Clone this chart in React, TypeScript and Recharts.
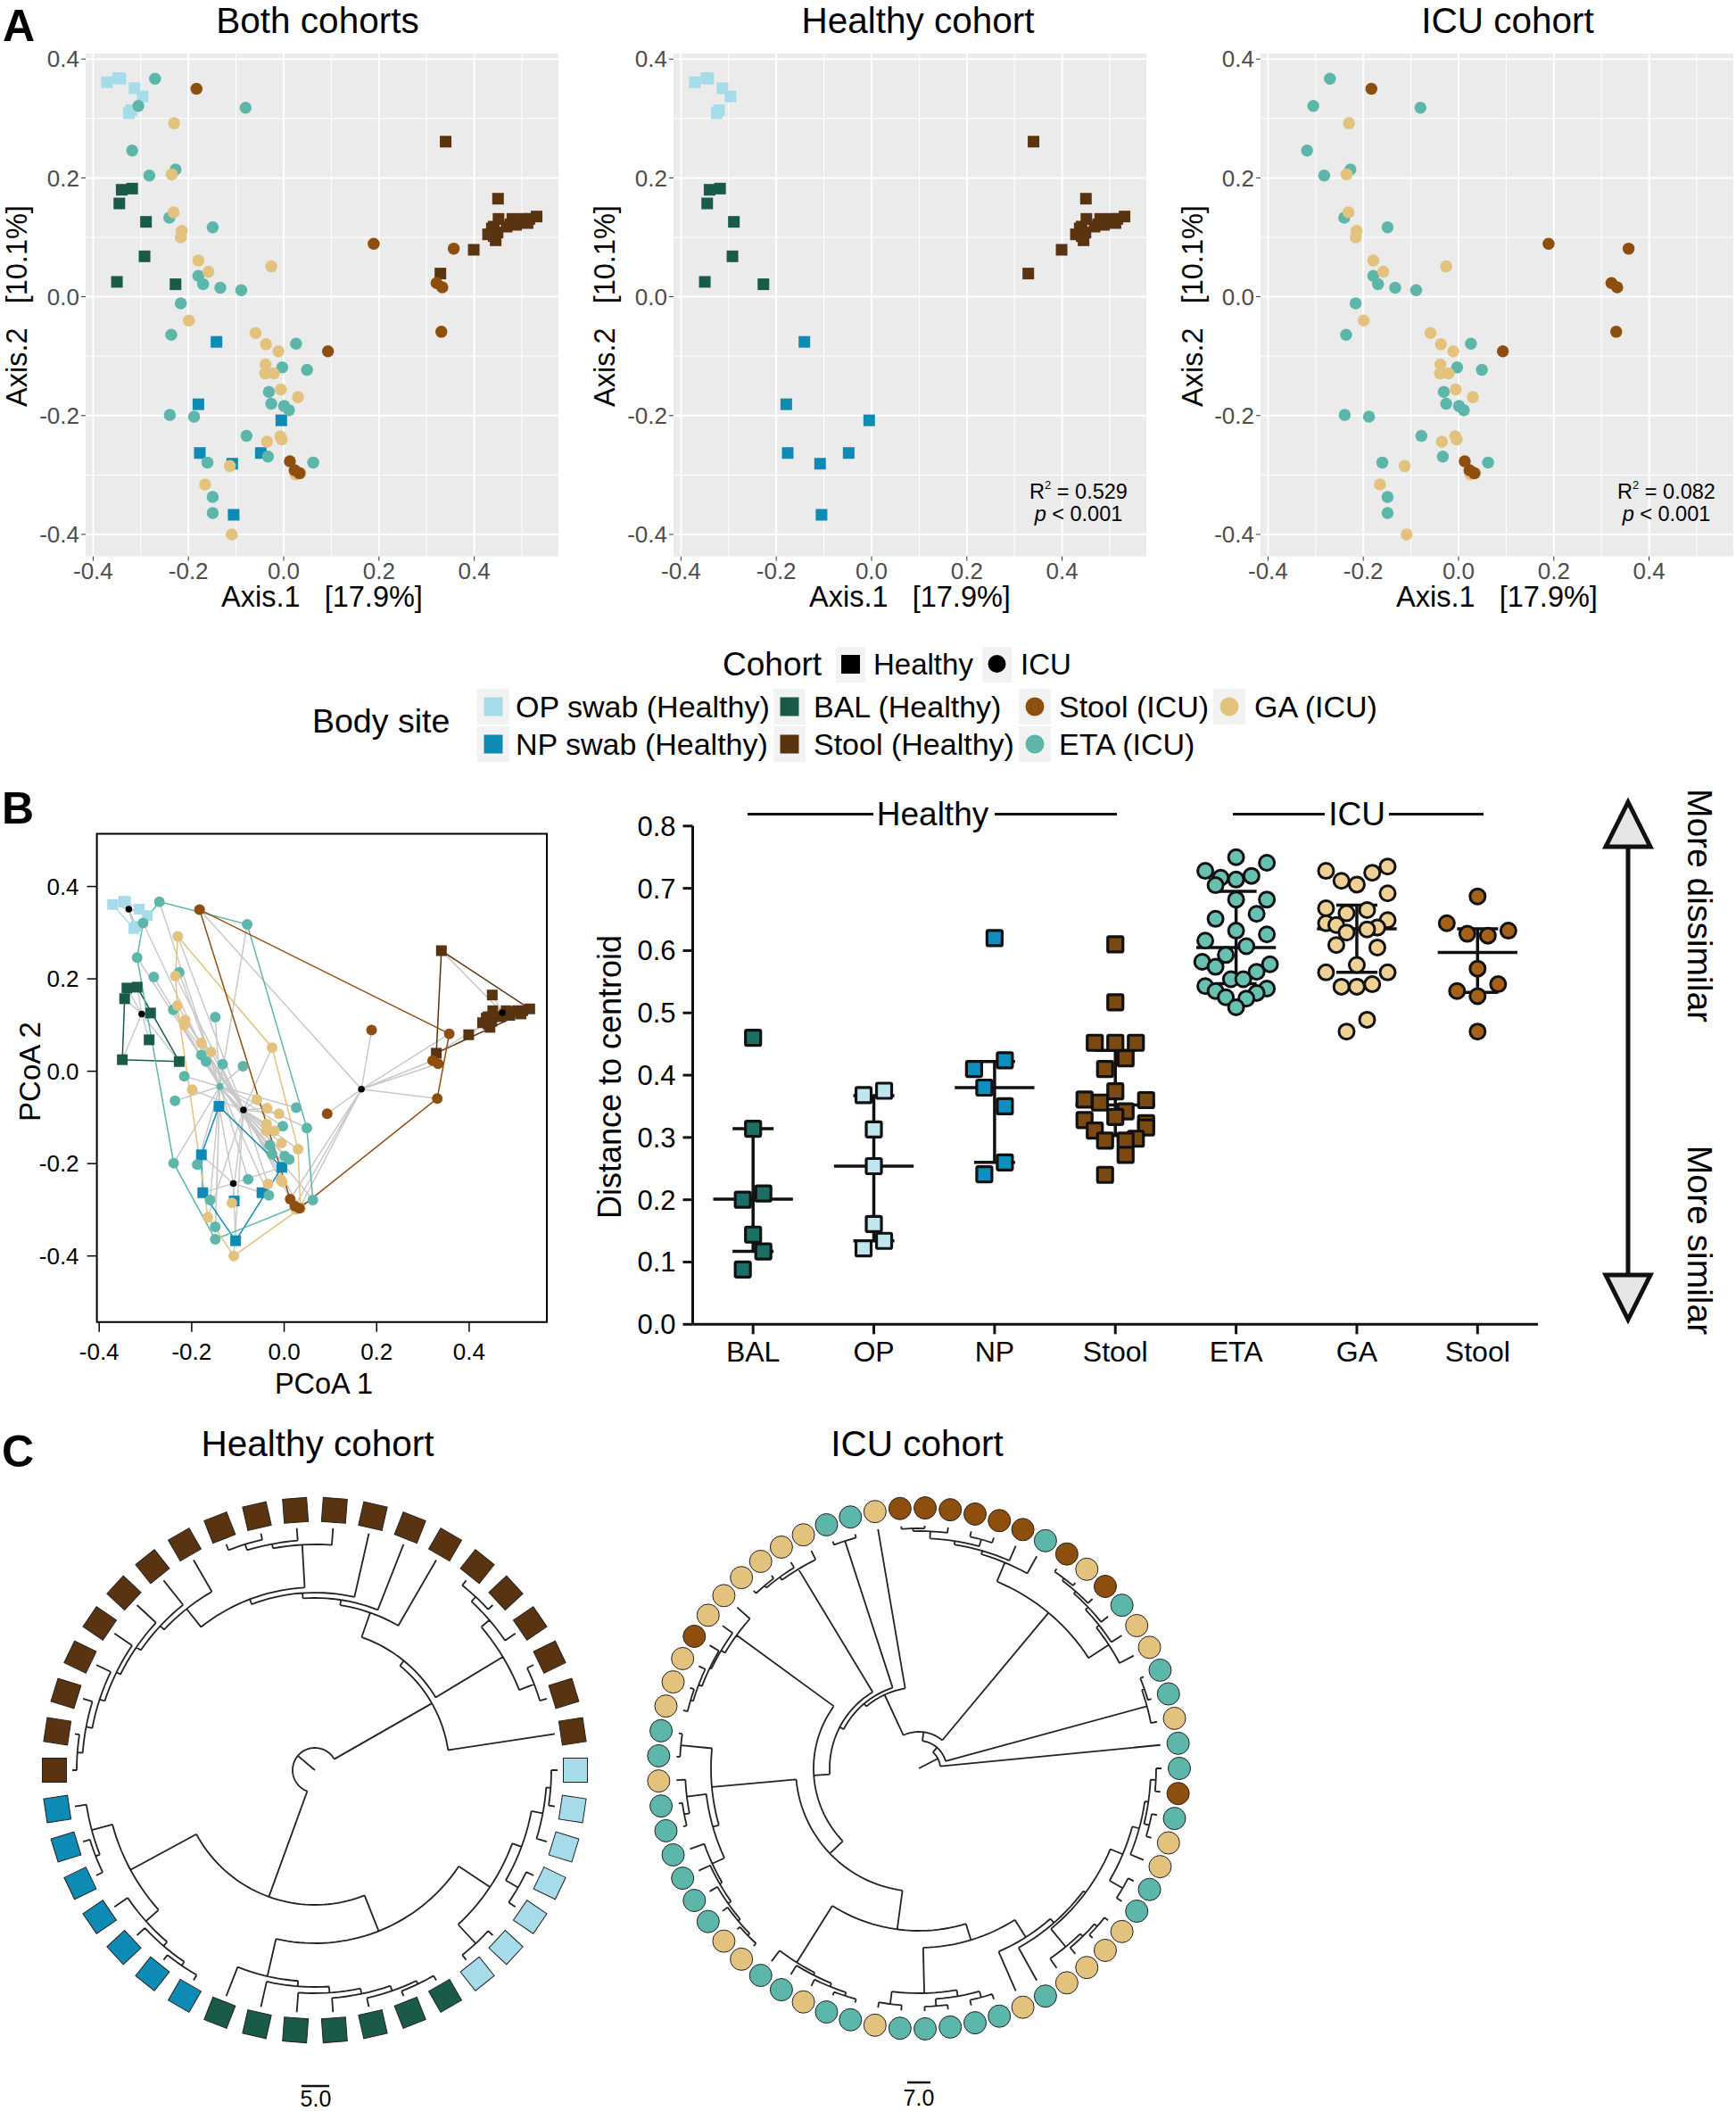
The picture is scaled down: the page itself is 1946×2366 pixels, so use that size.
import React from 'react';
import {
  ScatterChart,
  ComposedChart,
  Scatter,
  Line,
  XAxis,
  YAxis,
  CartesianGrid,
  ReferenceLine,
  ReferenceArea,
} from 'recharts';

// ordination coordinates per body site
const opX = [-0.371, -0.347, -0.343, -0.313, -0.296, -0.32, -0.325];
const opY = [0.361, 0.368, 0.367, 0.351, 0.337, 0.314, 0.309];
const balX = [-0.34, -0.318, -0.345, -0.289, -0.292, -0.35, -0.227];
const balY = [0.18, 0.182, 0.157, 0.126, 0.068, 0.025, 0.021];
const npX = [-0.141, -0.179, -0.176, -0.108, -0.048, -0.005, -0.105];
const npY = [-0.076, -0.181, -0.263, -0.281, -0.263, -0.208, -0.367];
const stoolHX = [0.34, 0.45, 0.451, 0.399, 0.329, 0.429, 0.437, 0.441, 0.449, 0.445, 0.468, 0.48, 0.488, 0.5, 0.512, 0.516, 0.531, 0.441, 0.476, 0.504];
const stoolHY = [0.261, 0.165, 0.131, 0.079, 0.039, 0.105, 0.115, 0.102, 0.108, 0.095, 0.118, 0.131, 0.121, 0.128, 0.124, 0.131, 0.135, 0.118, 0.122, 0.131];
const etaX = [-0.27, -0.305, -0.08, -0.318, -0.227, -0.282, -0.24, -0.149, -0.179, -0.169, -0.133, -0.089, -0.216, -0.236, 0.026, -0.003, 0.049, -0.031, -0.026, 0.001, 0.011, -0.239, -0.188, -0.078, -0.16, -0.033, 0.062, -0.149, -0.149];
const etaY = [0.367, 0.321, 0.318, 0.246, 0.214, 0.204, 0.133, 0.117, 0.035, 0.021, 0.015, 0.011, -0.011, -0.064, -0.079, -0.119, -0.123, -0.16, -0.18, -0.184, -0.191, -0.199, -0.202, -0.234, -0.279, -0.269, -0.279, -0.337, -0.364];
const gaX = [-0.23, -0.235, -0.231, -0.214, -0.216, -0.179, -0.158, -0.026, -0.199, -0.059, -0.037, -0.011, -0.038, -0.039, -0.021, -0.006, 0.03, -0.007, -0.004, -0.035, -0.113, -0.165, -0.109, 0.025, 0.035];
const gaY = [0.292, 0.206, 0.142, 0.111, 0.1, 0.061, 0.042, 0.051, -0.04, -0.061, -0.08, -0.092, -0.114, -0.129, -0.129, -0.156, -0.169, -0.235, -0.24, -0.244, -0.285, -0.316, -0.4, -0.299, -0.297];
const stoolIX = [-0.183, 0.189, 0.357, 0.321, 0.333, 0.331, 0.093, 0.013, 0.023, 0.033];
const stoolIY = [0.35, 0.089, 0.081, 0.023, 0.016, -0.059, -0.092, -0.277, -0.292, -0.297];

// group centroids of panel B
const centroidOP = { x: -0.336, y: 0.351 };
const centroidBAL = { x: -0.308, y: 0.124 };
const centroidNP = { x: -0.11, y: -0.243 };
const centroidStoolH = { x: 0.472, y: 0.127 };
const centroidETA = { x: -0.139, y: -0.033 };
const centroidGA = { x: -0.088, y: -0.084 };
const centroidStoolI = { x: 0.167, y: -0.039 };

const zip = (xs: number[], ys: number[]) => xs.map((x, i) => ({ x, y: ys[i] }));

const COLORS: any = {
  op: '#a6dbe9',
  bal: '#1a5a48',
  np: '#0e8bb5',
  stoolH: '#5a3410',
  stoolI: '#8e4e0e',
  eta: '#5cb6a9',
  ga: '#e3c27e',
};

const groups = [
  { key: 'op', square: true, pts: zip(opX, opY), c: centroidOP },
  { key: 'bal', square: true, pts: zip(balX, balY), c: centroidBAL },
  { key: 'np', square: true, pts: zip(npX, npY), c: centroidNP },
  { key: 'stoolH', square: true, pts: zip(stoolHX, stoolHY), c: centroidStoolH },
  { key: 'eta', square: false, pts: zip(etaX, etaY), c: centroidETA },
  { key: 'ga', square: false, pts: zip(gaX, gaY), c: centroidGA },
  { key: 'stoolI', square: false, pts: zip(stoolIX, stoolIY), c: centroidStoolI },
];

// distance to centroid, panel B right. jitter is the beeswarm offset in marker steps
const catLabels = ['BAL', 'OP', 'NP', 'Stool', 'ETA', 'GA', 'Stool'];
const distBAL = [0.46, 0.314, 0.21, 0.2, 0.144, 0.117, 0.088];
const jitBAL = [0, 0, 1, -1, 0, 1, -1];
const distOP = [0.368, 0.375, 0.313, 0.254, 0.161, 0.134, 0.122];
const jitOP = [-1, 1, 0, 0, 0, 1, -1];
const distNP = [0.62, 0.424, 0.41, 0.38, 0.35, 0.26, 0.241];
const jitNP = [0, 1, -2, -1, 1, 1, -1];
const distStoolH = [0.61, 0.517, 0.452, 0.452, 0.452, 0.427, 0.41, 0.374, 0.361, 0.356, 0.36, 0.342, 0.333, 0.328, 0.323, 0.316, 0.311, 0.298, 0.295, 0.295, 0.272, 0.24];
const jitStoolH = [0, 0, -2, 0, 2, 1, -1, 0, -3, -1.5, 3, 1, 0, -3, 3, 3, -2, 2, -1, 1, 1, -1];
const distETA = [0.75, 0.741, 0.728, 0.717, 0.714, 0.72, 0.705, 0.682, 0.682, 0.659, 0.651, 0.632, 0.626, 0.616, 0.607, 0.593, 0.582, 0.578, 0.574, 0.566, 0.554, 0.554, 0.543, 0.539, 0.535, 0.532, 0.525, 0.523, 0.509];
const jitETA = [0, 3, -3, -1.5, 0, 1.5, -2, 3, 0, 2, -2, 0, 3, -3, 1, -1, -3.3, 3.3, -2, 2, -0.5, 0.7, -3, 3, -2, 2, -1, 1, 0];
const distGA = [0.735, 0.728, 0.725, 0.712, 0.706, 0.692, 0.668, 0.665, 0.66, 0.649, 0.644, 0.641, 0.637, 0.634, 0.629, 0.609, 0.605, 0.577, 0.565, 0.565, 0.542, 0.542, 0.546, 0.489, 0.47];
const jitGA = [3, -3, 1.5, -1.5, 0, 3, -3, 1, -1, 3, -3, -2, 2, 1, -1, -2, 2, 0, -3, 3, -1.5, 0, 1.5, 1, -1];
const distStoolI = [0.687, 0.644, 0.627, 0.624, 0.632, 0.571, 0.546, 0.535, 0.527, 0.47];
const jitStoolI = [0, -3, -1, 1, 3, 0, 2, -2, 0, 0];

const medians = [0.201, 0.254, 0.38, 0.352, 0.605, 0.635, 0.597];
const lowers = [0.117, 0.134, 0.26, 0.303, 0.547, 0.565, 0.533];
const uppers = [0.314, 0.367, 0.422, 0.44, 0.695, 0.673, 0.635];

const swarm = [
  { dist: distBAL, jit: jitBAL, fill: '#1b6f63', square: true },
  { dist: distOP, jit: jitOP, fill: '#bfe5ef', square: true },
  { dist: distNP, jit: jitNP, fill: '#0d90bf', square: true },
  { dist: distStoolH, jit: jitStoolH, fill: '#7a4a12', square: true },
  { dist: distETA, jit: jitETA, fill: '#67c0b2', square: false },
  { dist: distGA, jit: jitGA, fill: '#efd196', square: false },
  { dist: distStoolI, jit: jitStoolI, fill: '#a5601a', square: false },
];

// cladograms: a node is [depth, ...children], a number is a leaf position on the ring
const healthyTree: any = [25,
  [151, 1, [158,
    [246, [264, 2, 3], [258, 4, [265, 5, 6]]],
    [187, 7, [193, 8, [199, 9, [205,
      [253, 10, [258, 11, [265, 12, 13]]],
      [231, 14, [237, 15, [243, 16, [248, 17, [254, 18, [261, 19, [267, 20, 21]]]]]]],
    ]]]],
  ]],
  [151,
    [235, [259, 22, [264, 23, 24]], [254, 25, [260, 26, [265, 27, 28]]]],
    [194,
      [237, 29, [243, 30, [250, 31, [256, 32, [262, 33, [266, 34, 35]]]]]],
      [236, [265, 36, 37], [247, [263, 38, 39], [260, 40, [265, 41, 42]]]],
    ],
  ],
];
const healthyLeaves = [
  ...Array(21).fill('stoolH'),
  ...Array(7).fill('np'),
  ...Array(7).fill('bal'),
  ...Array(7).fill('op'),
];

const icuTree: any = [24, 1, [31,
  [265, 2, [268, 3, 4]],
  [41,
    [227,
      [254, 5, [258, 6, [262, 7, [265, 8, [268, 9, 10]]]]],
      [250, 11, [254, 12, [258, [266, 13, 14], [266, 15, [269, 16, 17]]]]],
    ],
    [91, 18, [95, [268, 19, 20], [100,
      [261, 21, [265, 22, [268, 23, 24]]],
      [118,
        [253, 25, [258, 26, [260, 27, [264, 28, [267, 29, 30]]]]],
        [138,
          [233, [268, 31, 32], [240,
            [262, 33, [268, 34, 35]],
            [255, 36, [258, 37, [262, 38, [265, 39, [268, 40, 41]]]]],
          ]],
          [182,
            [257, 42, [260, 43, [264, 44, [268, 45, 46]]]],
            [201,
              [252, [266, 47, 48], [259, [267, 49, 50], [266, 51, 52]]],
              [224, 53, [230, 54, [233,
                [259, 55, [263, 56, [267, 57, 58]]],
                [248, [265, 59, 60], [256, 61, [260, [266, 62, 63], [266, 64, 65]]]],
              ]]],
            ],
          ],
        ],
      ],
    ]]],
  ],
]];
const icuLeaves = [
  'eta', 'ga', 'eta', 'eta', 'ga', 'ga', 'eta', 'stoolI', 'ga', 'stoolI', 'eta', 'stoolI', 'stoolI',
  'stoolI', 'stoolI', 'stoolI', 'stoolI', 'ga', 'eta', 'eta', 'ga', 'ga', 'ga', 'ga', 'ga', 'ga',
  'stoolI', 'ga', 'ga', 'ga', 'eta', 'eta', 'ga', 'eta', 'eta', 'eta', 'eta', 'eta', 'eta', 'ga',
  'ga', 'eta', 'eta', 'ga', 'eta', 'eta', 'ga', 'eta', 'eta', 'eta', 'eta', 'eta', 'ga', 'eta', 'ga',
  'ga', 'ga', 'ga', 'eta', 'eta', 'ga', 'ga', 'eta', 'stoolI', 'eta',
];

const TIP_DEPTH = 272;
const RING_DEPTH = 292;
const rad = (deg: number) => (deg * Math.PI) / 180;
const polar = (r: number, deg: number) => ({ x: r * Math.cos(rad(deg)), y: r * Math.sin(rad(deg)) });

// turns a nested tree into one polyline with null gaps, each branch going through the chart scales
function treePath(tree: any, leafCount: number) {
  const out: any[] = [];
  const gap = () => out.push({ x: 0, y: null });
  const angleOf = (node: any): number => {
    if (typeof node === 'number') return (node * 360) / leafCount;
    const kids = node.slice(1).map(angleOf);
    return (kids[0] + kids[kids.length - 1]) / 2;
  };
  const walk = (node: any) => {
    const [r, ...kids] = node;
    const angles = kids.map(angleOf);
    const a0 = angles[0];
    const a1 = angles[angles.length - 1];
    const steps = Math.max(2, Math.ceil((a1 - a0) / 2));
    for (let i = 0; i <= steps; i++) out.push(polar(r, a0 + ((a1 - a0) * i) / steps));
    gap();
    kids.forEach((kid: any, i: number) => {
      const end = typeof kid === 'number' ? TIP_DEPTH : kid[0];
      out.push(polar(r, angles[i]), polar(end, angles[i]));
      gap();
      if (typeof kid !== 'number') walk(kid);
    });
  };
  out.push({ x: 0, y: 0 }, polar(tree[0], angleOf(tree)));
  gap();
  walk(tree);
  return out;
}

function Dendrogram({ left, top, tree, leaves, square }: any) {
  const path = treePath(tree, leaves.length);
  const ring = leaves.map((site: string, i: number) => {
    const angle = ((i + 1) * 360) / leaves.length;
    return { ...polar(RING_DEPTH, angle), angle, site };
  });
  const Leaf = (p: any) => {
    const fill = COLORS[p.payload.site];
    if (!square) return <circle cx={p.cx} cy={p.cy} r={12.5} fill={fill} stroke="#222" strokeWidth={1} />;
    return (
      <rect
        x={p.cx - 13.5}
        y={p.cy - 13.5}
        width={27}
        height={27}
        fill={fill}
        stroke="#222"
        strokeWidth={1}
        transform={`rotate(${-p.payload.angle} ${p.cx} ${p.cy})`}
      />
    );
  };
  return (
    <div style={{ position: 'absolute', left, top }}>
      <ComposedChart width={640} height={640} margin={{ top: 0, right: 0, bottom: 0, left: 0 }}>
        <XAxis type="number" dataKey="x" domain={[-320, 320]} hide />
        <YAxis type="number" dataKey="y" domain={[-320, 320]} hide />
        <Line data={path} dataKey="y" stroke="#222" strokeWidth={1.8} dot={false} activeDot={false} isAnimationActive={false} type="linear" />
        <Scatter data={ring} shape={Leaf} isAnimationActive={false} />
      </ComposedChart>
    </div>
  );
}

const tick1 = (v: number) => v.toFixed(1);

const squareMark = (size: number, fill: string) => (p: any) =>
  <rect x={p.cx - size / 2} y={p.cy - size / 2} width={size} height={size} fill={fill} />;
const circleMark = (size: number, fill: string) => (p: any) =>
  <circle cx={p.cx} cy={p.cy} r={size / 2} fill={fill} />;
const noMark = () => <g />;

const pcoaX = [-0.4157, 0.5768];
const pcoaY = [-0.437, 0.4093];
const majorX = [-0.4, -0.2, 0, 0.2, 0.4];
const majorY = [-0.4, -0.2, 0, 0.2, 0.4];
const minorX = [-0.3, -0.1, 0.1, 0.3, 0.5];
const minorY = [-0.3, -0.1, 0.1, 0.3];

function PcoaPanel({ left, keys }: any) {
  return (
    <div style={{ position: 'absolute', left, top: 0 }}>
      <ScatterChart width={640} height={680} margin={{ top: 60, right: 14, bottom: 0, left: 0 }}>
        <CartesianGrid fill="#ebebeb" stroke="#fff" strokeWidth={1} horizontalValues={minorY} verticalValues={minorX} />
        <CartesianGrid fill="none" stroke="#fff" strokeWidth={2} horizontalValues={majorY} verticalValues={majorX} />
        <XAxis
          type="number"
          dataKey="x"
          domain={pcoaX}
          ticks={majorX}
          interval={0}
          height={56.4}
          axisLine={false}
          tickLine={{ stroke: '#333' }}
          tickSize={5}
          tickFormatter={tick1}
          tick={{ fontSize: 26, fill: '#4d4d4d' }}
          allowDataOverflow
        />
        <YAxis
          type="number"
          dataKey="y"
          domain={pcoaY}
          ticks={majorY}
          interval={0}
          width={96}
          axisLine={false}
          tickLine={{ stroke: '#333' }}
          tickSize={5}
          tickFormatter={tick1}
          tick={{ fontSize: 26, fill: '#4d4d4d' }}
          allowDataOverflow
        />
        {groups
          .filter((g) => keys.includes(g.key))
          .map((g) => (
            <Scatter
              key={g.key}
              data={g.pts}
              isAnimationActive={false}
              shape={g.square ? squareMark(13, COLORS[g.key]) : circleMark(13.5, COLORS[g.key])}
            />
          ))}
      </ScatterChart>
    </div>
  );
}

// monotone chain, gives the outline of a group in drawing order
function hull(pts: any[]) {
  const s = [...pts].sort((a, b) => a.x - b.x || a.y - b.y);
  const cross = (o: any, a: any, b: any) => (a.x - o.x) * (b.y - o.y) - (a.y - o.y) * (b.x - o.x);
  const half = (list: any[]) => {
    const h: any[] = [];
    list.forEach((p) => {
      while (h.length >= 2 && cross(h[h.length - 2], h[h.length - 1], p) <= 0) h.pop();
      h.push(p);
    });
    h.pop();
    return h;
  };
  const ring = [...half(s), ...half([...s].reverse())];
  return [...ring, ring[0]];
}

const boxX = [-0.405, 0.568];
const boxY = [-0.543, 0.5139];

function BetaPanel() {
  return (
    <div style={{ position: 'absolute', left: 0, top: 880 }}>
      <ScatterChart width={640} height={690} margin={{ top: 54.6, right: 27, bottom: 0, left: 0 }}>
        <XAxis
          type="number"
          dataKey="x"
          domain={boxX}
          ticks={majorX}
          interval={0}
          height={88.3}
          axisLine={false}
          tickLine={{ stroke: '#000', strokeWidth: 1.5 }}
          tickSize={11}
          tickMargin={13}
          tickFormatter={tick1}
          tick={{ fontSize: 26, fill: '#000' }}
          allowDataOverflow
        />
        <YAxis
          type="number"
          dataKey="y"
          domain={boxY}
          ticks={majorY}
          interval={0}
          width={108.6}
          axisLine={false}
          tickLine={{ stroke: '#000', strokeWidth: 1.5 }}
          tickSize={11}
          tickMargin={9}
          tickFormatter={tick1}
          tick={{ fontSize: 26, fill: '#000' }}
          allowDataOverflow
        />
        {groups.map((g) => (
          <Scatter
            key={`spider-${g.key}`}
            data={g.pts.flatMap((p) => [g.c, p])}
            line={{ stroke: '#c9c9c9', strokeWidth: 1.5 }}
            lineType="joint"
            shape={noMark}
            isAnimationActive={false}
          />
        ))}
        {groups.map((g) => (
          <Scatter
            key={`hull-${g.key}`}
            data={hull(g.pts)}
            line={{ stroke: COLORS[g.key], strokeWidth: 1.5 }}
            lineType="joint"
            shape={noMark}
            isAnimationActive={false}
          />
        ))}
        {groups.map((g) => (
          <Scatter
            key={g.key}
            data={g.pts}
            shape={g.square ? squareMark(12, COLORS[g.key]) : circleMark(12, COLORS[g.key])}
            isAnimationActive={false}
          />
        ))}
        {groups.map((g) => (
          <Scatter
            key={`centroid-${g.key}`}
            data={[g.c]}
            shape={circleMark(g.key === 'eta' ? 8 : 7.5, g.key === 'eta' ? COLORS.eta : '#000')}
            isAnimationActive={false}
          />
        ))}
        <ReferenceArea
          x1={boxX[0]}
          x2={boxX[1]}
          y1={boxY[0]}
          y2={boxY[1]}
          fill="none"
          stroke="#000"
          strokeWidth={2}
          ifOverflow="visible"
        />
      </ScatterChart>
    </div>
  );
}

const JITTER_STEP = 0.085;
const distTicks = [0, 0.1, 0.2, 0.3, 0.4, 0.5, 0.6, 0.7, 0.8];
const catTicks = [1, 2, 3, 4, 5, 6, 7];

const swarmMark = (fill: string, square: boolean) => (p: any) =>
  square ? (
    <rect x={p.cx - 8.5} y={p.cy - 8.5} width={17} height={17} rx={1.5} fill={fill} stroke="#111" strokeWidth={3.2} />
  ) : (
    <circle cx={p.cx} cy={p.cy} r={8.5} fill={fill} stroke="#111" strokeWidth={3} />
  );

function DistancePanel() {
  const barStyle = { stroke: '#111', strokeWidth: 3.5, ifOverflow: 'visible' as const };
  return (
    <div style={{ position: 'absolute', left: 650, top: 880 }}>
      <ScatterChart width={1100} height={690} margin={{ top: 45.8, right: 26, bottom: 0, left: 0 }}>
        <XAxis
          type="number"
          dataKey="x"
          domain={[0.5, 7.5]}
          ticks={catTicks}
          interval={0}
          height={85.7}
          axisLine={{ stroke: '#111', strokeWidth: 3 }}
          tickLine={{ stroke: '#111', strokeWidth: 3 }}
          tickSize={11}
          tickMargin={8}
          tickFormatter={(v: number) => catLabels[v - 1]}
          tick={{ fontSize: 32, fill: '#000' }}
        />
        <YAxis
          type="number"
          dataKey="y"
          domain={[0, 0.8]}
          ticks={distTicks}
          interval={0}
          width={126.5}
          axisLine={{ stroke: '#111', strokeWidth: 3 }}
          tickLine={{ stroke: '#111', strokeWidth: 3 }}
          tickSize={11}
          tickMargin={8}
          tickFormatter={tick1}
          tick={{ fontSize: 31, fill: '#000' }}
        />
        {swarm.map((s, i) => (
          <Scatter
            key={i}
            data={s.dist.map((y, j) => ({ x: i + 1 + s.jit[j] * JITTER_STEP, y }))}
            shape={swarmMark(s.fill, s.square)}
            isAnimationActive={false}
          />
        ))}
        {medians.map((m, i) => (
          <React.Fragment key={i}>
            <ReferenceLine segment={[{ x: i + 1, y: lowers[i] }, { x: i + 1, y: uppers[i] }]} {...barStyle} />
            <ReferenceLine segment={[{ x: i + 0.83, y: lowers[i] }, { x: i + 1.17, y: lowers[i] }]} {...barStyle} />
            <ReferenceLine segment={[{ x: i + 0.83, y: uppers[i] }, { x: i + 1.17, y: uppers[i] }]} {...barStyle} />
            <ReferenceLine segment={[{ x: i + 0.67, y: m }, { x: i + 1.33, y: m }]} {...barStyle} />
          </React.Fragment>
        ))}
      </ScatterChart>
    </div>
  );
}

const legendRows = [
  { label: 'OP swab (Healthy)', key: 'op', square: true, kx: 553, tx: 578, y: 792 },
  { label: 'NP swab (Healthy)', key: 'np', square: true, kx: 553, tx: 578, y: 834 },
  { label: 'BAL (Healthy)', key: 'bal', square: true, kx: 885, tx: 912, y: 792 },
  { label: 'Stool (Healthy)', key: 'stoolH', square: true, kx: 885, tx: 912, y: 834 },
  { label: 'Stool (ICU)', key: 'stoolI', square: false, kx: 1160, tx: 1187, y: 792 },
  { label: 'ETA (ICU)', key: 'eta', square: false, kx: 1160, tx: 1187, y: 834 },
  { label: 'GA (ICU)', key: 'ga', square: false, kx: 1378, tx: 1406, y: 792 },
];

const SPACED = '\u00A0\u00A0\u00A0';

function Annotations() {
  const central = { dominantBaseline: 'central' as const };
  const yLabels = [19, 678, 1337];
  const xLabels = [361, 1020, 1678];
  return (
    <svg width={1946} height={2366} style={{ position: 'absolute', left: 0, top: 0, pointerEvents: 'none' }}>
      <text x={3} y={46} fontSize={50} fontWeight="bold">A</text>
      <text x={2} y={923} fontSize={50} fontWeight="bold">B</text>
      <text x={2} y={1644} fontSize={50} fontWeight="bold">C</text>

      <text x={356} y={36.5} fontSize={40.5} textAnchor="middle">Both cohorts</text>
      <text x={1029} y={36.5} fontSize={40.5} textAnchor="middle">Healthy cohort</text>
      <text x={1690} y={36.5} fontSize={40.5} textAnchor="middle">ICU cohort</text>

      {xLabels.map((x) => (
        <text key={x} x={x} y={669} fontSize={32.5} textAnchor="middle" {...central}>{`Axis.1${SPACED}[17.9%]`}</text>
      ))}
      {yLabels.map((x) => (
        <text key={x} x={x} y={343} fontSize={32.5} textAnchor="middle" {...central} transform={`rotate(-90 ${x} 343)`}>{`Axis.2${SPACED}[10.1%]`}</text>
      ))}

      {[[1209, '0.529'], [1868, '0.082']].map(([x, v]) => (
        <g key={v as string} fontSize={23.5} textAnchor="middle">
          <text x={x as number} y={551} {...central}>R<tspan fontSize={13} dy={-8}>2</tspan><tspan dy={8}>{` = ${v}`}</tspan></text>
          <text x={x as number} y={576} {...central}><tspan fontStyle="italic">p</tspan> {'< 0.001'}</text>
        </g>
      ))}

      <text x={810} y={744} fontSize={37} {...central}>Cohort</text>
      <rect x={937} y={725} width={33} height={40} fill="#f2f2f2" />
      <rect x={943} y={734} width={21} height={21} fill="#000" />
      <text x={979} y={744} fontSize={33} {...central}>Healthy</text>
      <rect x={1101} y={725} width={33} height={40} fill="#f2f2f2" />
      <circle cx={1117.5} cy={744} r={10} fill="#000" />
      <text x={1144} y={744} fontSize={33} {...central}>ICU</text>

      <text x={350} y={808} fontSize={37.5} {...central}>Body site</text>
      {legendRows.map((r) => (
        <g key={r.label}>
          <rect x={r.kx - 18} y={r.y - 20} width={36} height={40} fill="#f2f2f2" />
          {r.square ? (
            <rect x={r.kx - 10.5} y={r.y - 10.5} width={21} height={21} fill={COLORS[r.key]} />
          ) : (
            <circle cx={r.kx} cy={r.y} r={10.5} fill={COLORS[r.key]} />
          )}
          <text x={r.tx} y={r.y} fontSize={34} {...central}>{r.label}</text>
        </g>
      ))}

      <text x={33.5} y={1201} fontSize={33} textAnchor="middle" {...central} transform="rotate(-90 33.5 1201)">PCoA 2</text>
      <text x={363} y={1551} fontSize={32.5} textAnchor="middle" {...central}>PCoA 1</text>

      <text x={683} y={1207} fontSize={36} textAnchor="middle" {...central} transform="rotate(-90 683 1207)">Distance to centroid</text>
      <line x1={838} x2={979} y1={912.6} y2={912.6} stroke="#111" strokeWidth={3} />
      <line x1={1115} x2={1252} y1={912.6} y2={912.6} stroke="#111" strokeWidth={3} />
      <text x={1045.5} y={912} fontSize={37} textAnchor="middle" {...central}>Healthy</text>
      <line x1={1382} x2={1485} y1={912.6} y2={912.6} stroke="#111" strokeWidth={3} />
      <line x1={1557} x2={1663} y1={912.6} y2={912.6} stroke="#111" strokeWidth={3} />
      <text x={1521} y={912} fontSize={37} textAnchor="middle" {...central}>ICU</text>

      <line x1={1825} x2={1825} y1={950} y2={1430} stroke="#111" strokeWidth={5} />
      <polygon points="1825,899 1850,949 1800,949" fill="#e6e6e6" stroke="#111" strokeWidth={5} />
      <polygon points="1825,1479 1850,1429 1800,1429" fill="#e6e6e6" stroke="#111" strokeWidth={5} />
      <text x={1905} y={1015} fontSize={39} textAnchor="middle" {...central} transform="rotate(90 1905 1015)">More dissimilar</text>
      <text x={1905} y={1390} fontSize={39} textAnchor="middle" {...central} transform="rotate(90 1905 1390)">More similar</text>

      <text x={356} y={1632} fontSize={40.5} textAnchor="middle">Healthy cohort</text>
      <text x={1028} y={1632} fontSize={40.5} textAnchor="middle">ICU cohort</text>

      <line x1={338} x2={369} y1={2338} y2={2338} stroke="#111" strokeWidth={2.5} />
      <text x={354} y={2360.5} fontSize={25} textAnchor="middle">5.0</text>
      <line x1={1017} x2={1043} y1={2334} y2={2334} stroke="#111" strokeWidth={2.5} />
      <text x={1030} y={2360} fontSize={25} textAnchor="middle">7.0</text>
    </svg>
  );
}

export default function App() {
  return (
    <div
      style={{
        position: 'absolute',
        left: 0,
        top: 0,
        width: 1946,
        height: 2366,
        background: '#fff',
        fontFamily: '"Liberation Sans", Arial, sans-serif',
        overflow: 'hidden',
      }}
    >
      <PcoaPanel left={0} keys={['op', 'bal', 'np', 'stoolH', 'eta', 'ga', 'stoolI']} />
      <PcoaPanel left={659} keys={['op', 'bal', 'np', 'stoolH']} />
      <PcoaPanel left={1317} keys={['eta', 'ga', 'stoolI']} />
      <BetaPanel />
      <DistancePanel />
      <Dendrogram left={33} top={1664} tree={healthyTree} leaves={healthyLeaves} square />
      <Dendrogram left={710} top={1662} tree={icuTree} leaves={icuLeaves} square={false} />
      <Annotations />
    </div>
  );
}
